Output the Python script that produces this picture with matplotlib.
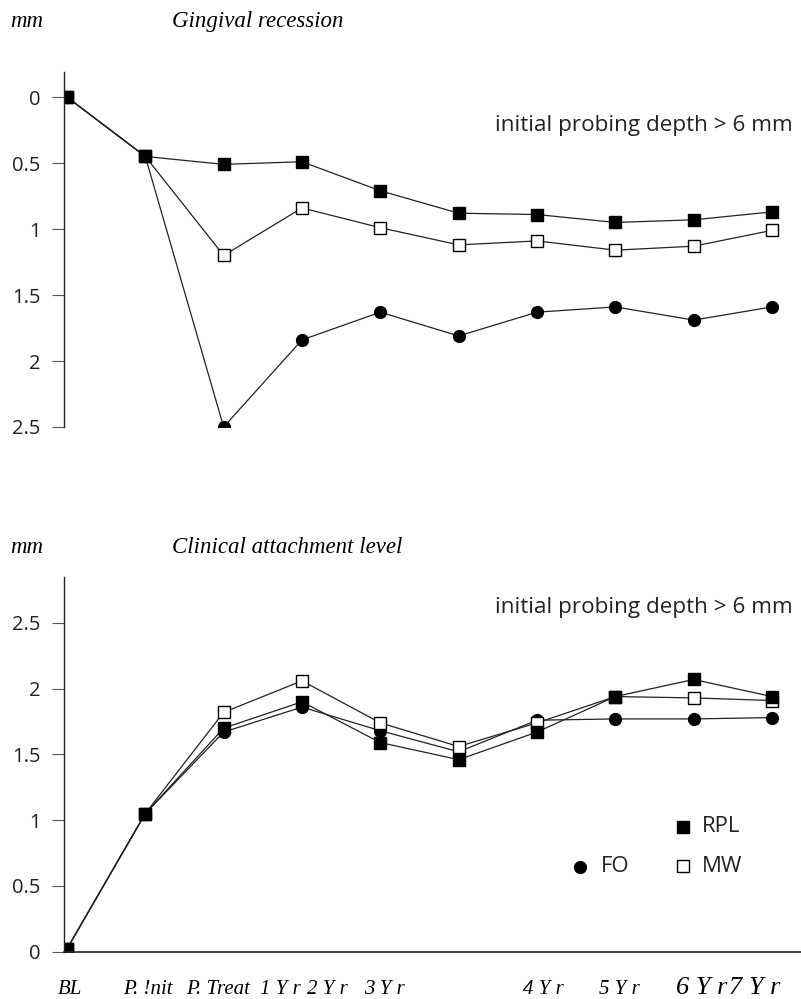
import matplotlib
matplotlib.use('Agg')
import matplotlib.pyplot as plt

##time points on the x axis
periods = ['BL', 'P. !nit', 'P. Treat', '1 Y r', '2 Y r', '3 Y r', '4 Y r', '5 Y r', '6 Y r', '7 Y r']
x = list(range(len(periods)))

##gingival recession (mm), axis is inverted
gr_rpl = [0, 0.45, 0.51, 0.49, 0.71, 0.88, 0.89, 0.95, 0.93, 0.87]
gr_mw = [0, 0.45, 1.20, 0.84, 0.99, 1.12, 1.09, 1.16, 1.13, 1.01]
gr_fo = [0, 0.45, 2.50, 1.84, 1.63, 1.81, 1.63, 1.59, 1.69, 1.59]

##clinical attachment level (mm)
cal_rpl = [0.02, 1.05, 1.70, 1.90, 1.59, 1.46, 1.67, 1.94, 2.07, 1.94]
cal_mw = [0.02, 1.05, 1.82, 2.06, 1.74, 1.56, 1.74, 1.94, 1.93, 1.91]
cal_fo = [0.02, 1.05, 1.67, 1.86, 1.68, 1.52, 1.76, 1.77, 1.77, 1.78]

gr_ticks = [0, 0.5, 1, 1.5, 2, 2.5]
cal_ticks = [0, 0.5, 1, 1.5, 2, 2.5]
tick_text = ['0', '0.5', '1', '1.5', '2', '2.5']

W, H = 801, 999
SERIF = 'Liberation Serif'
SANS = 'Open Sans'
INK = '#222222'

##pixel -> figure fraction
def fx(px):
    return px / W

def fy(py):
    return 1 - py / H

fig = plt.figure(figsize=(W / 100, H / 100), dpi=100)

ax1 = fig.add_axes([fx(64), fy(427), fx(W - 64), (427 - 72) / H])
ax2 = fig.add_axes([fx(64), fy(951.5), fx(W - 64), (951.5 - 577) / H])

line_kw = dict(color=INK, lw=0.9, markersize=8.5, markeredgewidth=1.0, markeredgecolor='black')

def draw(ax, fo, mw, rpl):
    ax.plot(x, fo, marker='o', markerfacecolor='black', **line_kw)
    ax.plot(x, mw, marker='s', markerfacecolor='white', **line_kw)
    ax.plot(x, rpl, marker='s', markerfacecolor='black', **line_kw)

draw(ax1, gr_fo, gr_mw, gr_rpl)
draw(ax2, cal_fo, cal_mw, cal_rpl)

##axes styling
for ax in (ax1, ax2):
    ax.set_xlim(-0.038, 9.37)
    ax.set_xticks([])
    ax.spines['top'].set_visible(False)
    ax.spines['right'].set_visible(False)
    ax.spines['left'].set_color(INK)
    ax.spines['left'].set_linewidth(1.0)
    ax.tick_params(axis='y', length=9, width=0.8, color='#555555', pad=8,
                   labelsize=14.5, labelcolor=INK)
    ax.patch.set_alpha(0)

ax1.set_ylim(2.5, -0.19)
ax1.set_yticks(gr_ticks)
ax1.set_yticklabels(tick_text, fontfamily=SANS)
ax1.spines['bottom'].set_visible(False)

ax2.set_ylim(0, 2.85)
ax2.set_yticks(cal_ticks)
ax2.set_yticklabels(tick_text, fontfamily=SANS)
ax2.spines['bottom'].set_color(INK)
ax2.spines['bottom'].set_linewidth(1.2)

##titles
title_kw = dict(fontfamily=SERIF, style='italic', fontsize=16.5, color='black', va='baseline')
fig.text(fx(10), fy(27), 'mm', **title_kw)
fig.text(fx(172), fy(27), 'Gingival recession', **title_kw)
fig.text(fx(10), fy(553), 'mm', **title_kw)
fig.text(fx(172), fy(553), 'Clinical attachment level', **title_kw)

note_kw = dict(fontfamily=SANS, fontsize=16.2, color=INK, va='baseline')
fig.text(fx(495), fy(131), 'initial probing depth > 6 mm', **note_kw)
fig.text(fx(495), fy(613), 'initial probing depth > 6 mm', **note_kw)

##x labels, placed as in the scan
label_x = [70, 148, 218, 280, 327, 384, 543, 619, 702, 755]
label_size = [15, 15, 15, 15, 15, 15, 15, 15, 19, 19]
for lab, px, sz in zip(periods, label_x, label_size):
    fig.text(fx(px), fy(994), lab, fontfamily=SERIF, style='italic', fontsize=sz,
             color='black', ha='center', va='baseline')

##legend
leg_kw = dict(transform=fig.transFigure, ls='none', markersize=8.5, markeredgecolor='black')
fig.lines.append(plt.Line2D([fx(683)], [fy(827)], marker='s', markerfacecolor='black', **leg_kw))
fig.lines.append(plt.Line2D([fx(580)], [fy(867)], marker='o', markerfacecolor='black', **leg_kw))
fig.lines.append(plt.Line2D([fx(683)], [fy(866)], marker='s', markerfacecolor='white', **leg_kw))
leg_txt = dict(fontfamily=SANS, fontsize=16, color=INK, va='center')
fig.text(fx(702), fy(827), 'RPL', **leg_txt)
fig.text(fx(601), fy(867), 'FO', **leg_txt)
fig.text(fx(702), fy(866), 'MW', **leg_txt)

fig.savefig('out.png', dpi=100)
